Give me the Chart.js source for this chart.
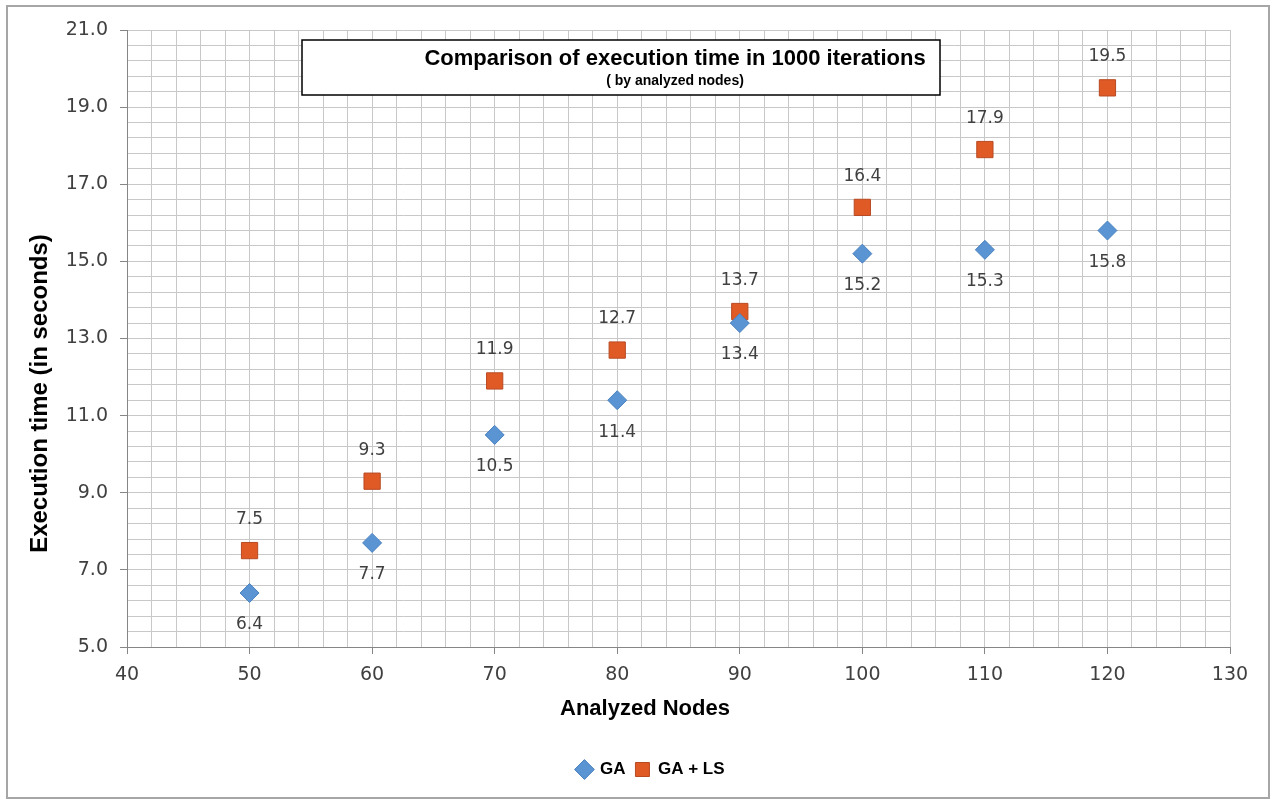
<!DOCTYPE html>
<html>
<head>
<meta charset="utf-8">
<title>Execution time by analyzed nodes</title>
<script src="https://cdn.jsdelivr.net/npm/chart.js@4.4.0/dist/chart.umd.min.js"></script>
<style>
  html, body { margin: 0; padding: 0; background: #ffffff; }
  #wrap { width: 1272px; height: 800px; }
</style>
</head>
<body>
<div id="wrap"><canvas id="chart" width="1272" height="800"></canvas></div>
<script>
// 数据
const nodes = [50, 60, 70, 80, 90, 100, 110, 120];
const gaTimes = [6.4, 7.7, 10.5, 11.4, 13.4, 15.2, 15.3, 15.8];
const gaLsTimes = [7.5, 9.3, 11.9, 12.7, 13.7, 16.4, 17.9, 19.5];
const seriesNames = ['GA', 'GA + LS'];

// 坐标轴范围（主刻度 / 次网格）
const xRange = { min: 40, max: 130, minor: 2, major: 10 };
const yRange = { min: 5, max: 21, minor: 0.4, major: 2 };

const titleText = 'Comparison of execution time in 1000 iterations';
const subtitleText = '( by analyzed nodes)';
const xTitleText = 'Analyzed Nodes';
const yTitleText = 'Execution time (in seconds)';

const AXIS_COLOR = '#868686';
const GRID_COLOR = '#c8c8c8';
const TEXT_COLOR = '#404040';
const SANS = '"Liberation Sans", Arial, sans-serif';
const TICK_FONT = '"DejaVu Sans", Verdana, sans-serif';

function isMajor(value, range) {
    const k = (value - range.min) / range.major;
    return Math.abs(k - Math.round(k)) < 1e-6;
}

function toPoints(xs, ys) {
    return xs.map((x, i) => ({ x: x, y: ys[i] }));
}

/**
 * 外框
 */
const framePlugin = {
    id: 'chartFrame',
    beforeDraw(chart) {
        const ctx = chart.ctx;
        ctx.save();
        ctx.fillStyle = '#ffffff';
        ctx.fillRect(0, 0, chart.width, chart.height);
        ctx.strokeStyle = '#a6a6a6';
        ctx.lineWidth = 2;
        ctx.strokeRect(7, 6, chart.width - 10, chart.height - 8);
        ctx.restore();
    }
};

/**
 * 坐标轴标题（不居中于绘图区，稍微偏移）
 */
const axisTitlePlugin = {
    id: 'axisTitles',
    afterDraw(chart) {
        const ctx = chart.ctx;
        const area = chart.chartArea;
        ctx.save();
        ctx.fillStyle = '#000000';
        ctx.textAlign = 'center';
        ctx.textBaseline = 'middle';
        ctx.font = 'bold 22px ' + SANS;
        ctx.fillText(xTitleText, area.left + 518, area.bottom + 62);
        ctx.translate(area.left - 87, (area.top + area.bottom) / 2 + 55);
        ctx.rotate(-Math.PI / 2);
        ctx.font = 'bold 24px ' + SANS;
        ctx.fillText(yTitleText, 0, 0);
        ctx.restore();
    }
};

/**
 * 图内标题框
 */
const titleBoxPlugin = {
    id: 'titleBox',
    afterDatasetsDraw(chart) {
        const ctx = chart.ctx;
        const area = chart.chartArea;
        const left = area.left + 175;
        const top = area.top + 10;
        const w = 638, h = 55;
        ctx.save();
        ctx.fillStyle = '#ffffff';
        ctx.fillRect(left, top, w, h);
        ctx.strokeStyle = '#000000';
        ctx.lineWidth = 1.5;
        ctx.strokeRect(left, top, w, h);
        ctx.fillStyle = '#000000';
        ctx.textAlign = 'center';
        ctx.textBaseline = 'middle';
        ctx.font = 'bold 22px ' + SANS;
        ctx.fillText(titleText, left + w / 2 + 54, top + 19);
        ctx.font = 'bold 14px ' + SANS;
        ctx.fillText(subtitleText, left + w / 2 + 54, top + 41);
        ctx.restore();
    }
};

/**
 * 数据标签：GA 写在点下方，GA + LS 写在点上方
 */
const valueLabelPlugin = {
    id: 'valueLabels',
    afterDatasetsDraw(chart) {
        const ctx = chart.ctx;
        ctx.save();
        ctx.font = '17px ' + TICK_FONT;
        ctx.fillStyle = TEXT_COLOR;
        ctx.textAlign = 'center';
        ctx.textBaseline = 'middle';
        chart.data.datasets.forEach((ds, di) => {
            const meta = chart.getDatasetMeta(di);
            const offset = ds.labelOffset;
            meta.data.forEach((pt, i) => {
                ctx.fillText(ds.data[i].y.toFixed(1), pt.x, pt.y + offset);
            });
        });
        ctx.restore();
    }
};

/**
 * 图例整体右移一点
 */
const legendShiftPlugin = {
    id: 'legendShift',
    afterLayout(chart) {
        if (chart.legend) {
            chart.legend.left += 36;
            chart.legend.right += 36;
        }
    }
};

const ctx = document.getElementById('chart').getContext('2d');

const chart = new Chart(ctx, {
    type: 'scatter',
    data: {
        datasets: [
            {
                label: seriesNames[0],
                data: toPoints(nodes, gaTimes),
                pointStyle: 'rectRot',
                pointRadius: 9.5,
                backgroundColor: '#5b94d3',
                borderColor: '#4a82c0',
                borderWidth: 1,
                labelOffset: 32
            },
            {
                label: seriesNames[1],
                data: toPoints(nodes, gaLsTimes),
                pointStyle: 'rect',
                pointRadius: 11.5,
                backgroundColor: '#e05a26',
                borderColor: '#b84a22',
                borderWidth: 1,
                labelOffset: -31
            }
        ]
    },
    options: {
        responsive: false,
        animation: false,
        layout: {
            padding: { left: 0, top: 30, right: 42, bottom: 12 }
        },
        plugins: {
            title: { display: false },
            tooltip: { enabled: false },
            legend: {
                position: 'bottom',
                labels: {
                    usePointStyle: true,
                    boxWidth: 14,
                    boxHeight: 14,
                    padding: 10,
                    color: '#000000',
                    font: { family: SANS, size: 17, weight: 'bold' }
                }
            }
        },
        scales: {
            x: {
                type: 'linear',
                min: xRange.min,
                max: xRange.max,
                afterFit(scale) { scale.height = 104; },
                ticks: {
                    stepSize: xRange.minor,
                    autoSkip: false,
                    maxRotation: 0,
                    padding: 10,
                    color: TEXT_COLOR,
                    font: { family: TICK_FONT, size: 19 },
                    callback: value => isMajor(value, xRange) ? String(value) : ''
                },
                grid: {
                    color: GRID_COLOR,
                    tickLength: 7,
                    tickColor: c => (c.tick && isMajor(c.tick.value, xRange)) ? AXIS_COLOR : 'rgba(0,0,0,0)'
                },
                border: { color: AXIS_COLOR, width: 1 },
                title: { display: false }
            },
            y: {
                type: 'linear',
                min: yRange.min,
                max: yRange.max,
                afterFit(scale) { scale.width = 127; },
                ticks: {
                    stepSize: yRange.minor,
                    autoSkip: false,
                    padding: 12,
                    color: TEXT_COLOR,
                    font: { family: TICK_FONT, size: 19 },
                    callback: value => isMajor(value, yRange) ? value.toFixed(1) : ''
                },
                grid: {
                    color: GRID_COLOR,
                    tickLength: 7,
                    tickColor: c => (c.tick && isMajor(c.tick.value, yRange)) ? AXIS_COLOR : 'rgba(0,0,0,0)'
                },
                border: { color: AXIS_COLOR, width: 1 },
                title: { display: false }
            }
        }
    },
    plugins: [framePlugin, legendShiftPlugin, titleBoxPlugin, valueLabelPlugin, axisTitlePlugin]
});
</script>
</body>
</html>
